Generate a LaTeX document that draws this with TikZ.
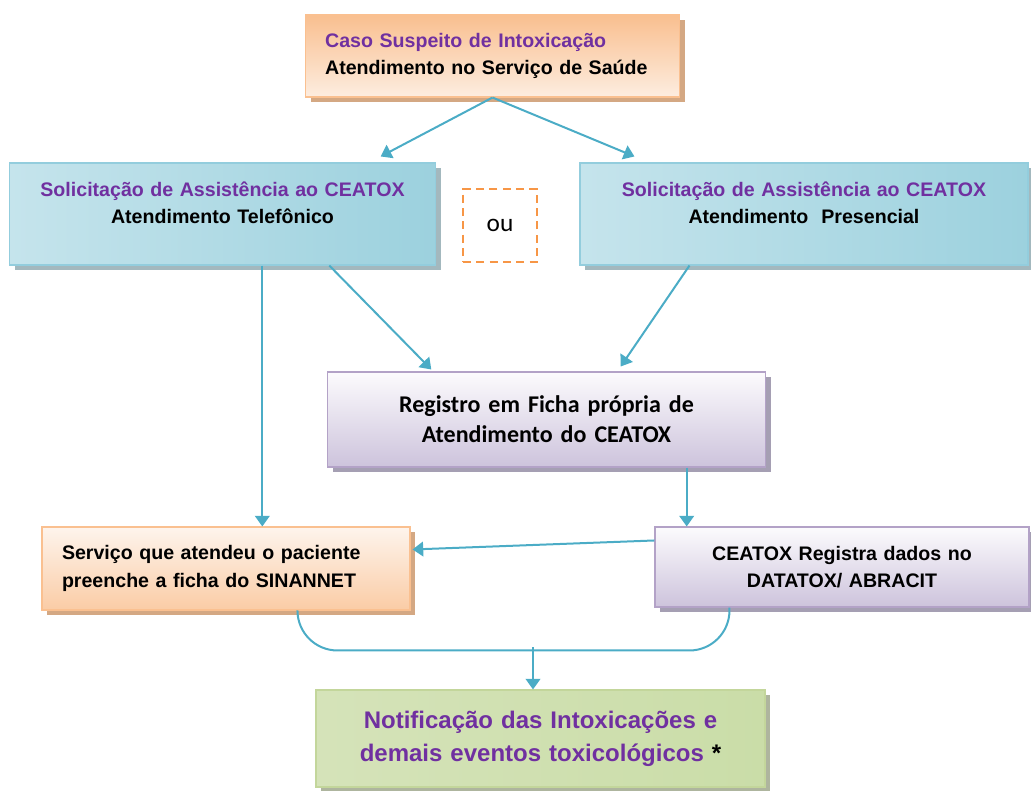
\documentclass[tikz,border=0pt]{standalone}
\usepackage{fontspec}
\setmainfont{Liberation Sans}
\newfontfamily\calibri{Carlito}
\usetikzlibrary{arrows.meta,positioning,calc,shadows}
\definecolor{roxo}{HTML}{7030A0}
\definecolor{setacor}{HTML}{4BACC6}
\definecolor{laranjaA}{HTML}{F9BF8F}
\definecolor{laranjaB}{HTML}{FDEDE0}
\definecolor{laranjaborda}{HTML}{FAC090}
\definecolor{laranjasombra}{HTML}{D4A883}
\definecolor{azulA}{HTML}{C5E4EC}
\definecolor{azulB}{HTML}{E0F1F6}
\definecolor{azulC}{HTML}{9CD1DE}
\definecolor{azulborda}{HTML}{93CDDD}
\definecolor{azulsombra}{HTML}{A3B8BE}
\definecolor{lilasA}{HTML}{FCFBFD}
\definecolor{lilasB}{HTML}{CDC3DC}
\definecolor{lilasborda}{HTML}{B3A2C7}
\definecolor{lilassombra}{HTML}{A59FB3}
\definecolor{verdeA}{HTML}{D5E3B9}
\definecolor{verdeB}{HTML}{EEF4E4}
\definecolor{verdeC}{HTML}{CADDA8}
\definecolor{verdeborda}{HTML}{C3D69B}
\definecolor{verdesombra}{HTML}{AEB59E}
\definecolor{tracejado}{HTML}{F79646}

\begin{document}
\begin{tikzpicture}[x=0.75pt,y=0.75pt]
  \tikzstyle{every node}+=[font=\bfseries\fontsize{14.7}{20.5}\selectfont]
  \tikzstyle{caixa}=[draw, line width=0.8pt, inner xsep=15pt, inner ysep=0pt]
  \tikzstyle{laranja}=[caixa, draw=laranjaborda, top color=laranjaA, bottom color=laranjaB,
      drop shadow={shadow xshift=4pt, shadow yshift=-4pt, fill=laranjasombra, opacity=1}]
  \tikzstyle{pessego}=[caixa, draw=laranjaborda, top color=laranjaB!60!white, bottom color=laranjaA!80!white,
      drop shadow={shadow xshift=4pt, shadow yshift=-4pt, fill=laranjasombra, opacity=1}]
  \tikzstyle{azul}=[caixa, draw=azulborda, left color=azulA, middle color=azulB, right color=azulC,
      drop shadow={shadow xshift=4pt, shadow yshift=-4pt, fill=azulsombra, opacity=1}]
  \tikzstyle{lilas}=[caixa, draw=lilasborda, top color=lilasA, bottom color=lilasB,
      drop shadow={shadow xshift=4pt, shadow yshift=-4pt, fill=lilassombra, opacity=1}]
  \tikzstyle{verde}=[caixa, draw=verdeborda, left color=verdeA, middle color=verdeB, right color=verdeC,
      drop shadow={shadow xshift=4pt, shadow yshift=-4pt, fill=verdesombra, opacity=1}]
  \tikzstyle{seta}=[draw=setacor, line width=1.5pt, -{Triangle[width=11pt,length=8pt]}]
  \tikzstyle{linha}=[draw=setacor, line width=1.5pt]

  \useasboundingbox (0,0) rectangle (1031,-790);

  % caixas
  \node[laranja, minimum width=281pt, minimum height=61.5pt, text width=251pt, align=left]
      (topo) at (492.5,-56)
      {\textcolor{roxo}{Caso Suspeito de Intoxicação}\\Atendimento no Serviço de Saúde};
  \node[azul, minimum width=319pt, minimum height=76.5pt, text width=289pt, align=center]
      (tel) at (222.5,-214)
      {\textcolor{roxo}{Solicitação de Assistência ao CEATOX}\\Atendimento Telefônico\\[-4pt]\mbox{}};
  \node[azul, minimum width=336pt, minimum height=76.5pt, text width=306pt, align=center]
      (pres) at (804,-214)
      {\textcolor{roxo}{Solicitação de Assistência ao CEATOX}\\Atendimento\ \ Presencial\\[-4pt]\mbox{}};
  \node[draw=tracejado, line width=1.5pt, dash pattern=on 6pt off 4pt,
      minimum width=55.5pt, minimum height=54.75pt, font=\calibri\fontsize{19}{22}\selectfont]
      (ou) at (500,-225.5) {ou};
  \node[lilas, minimum width=328pt, minimum height=71.25pt, text width=298pt, align=center,
      font=\calibri\bfseries\fontsize{18}{22.5}\selectfont]
      (reg) at (546.5,-419.5)
      {Registro em Ficha própria de\\Atendimento do CEATOX};
  \node[pessego, minimum width=276pt, minimum height=62.25pt, text width=246pt, align=left]
      (serv) at (226,-568.5)
      {Serviço que atendeu o paciente\\preenche a ficha do SINANNET};
  \node[lilas, minimum width=280.5pt, minimum height=60pt, text width=250pt, align=center]
      (datatox) at (842,-567)
      {CEATOX Registra dados no\\DATATOX/ ABRACIT};
  \node[verde, minimum width=336.75pt, minimum height=72.75pt, text width=306pt, align=center,
      font=\bfseries\fontsize{18}{25}\selectfont]
      (notif) at (540.5,-738.5)
      {\textcolor{roxo}{Notificação das Intoxicações e}\\\textcolor{roxo}{demais eventos toxicológicos} *};

  % ligacoes
  \draw[seta] (topo.south) -- ($(tel.north east)+(-55,6)$);
  \draw[seta] (topo.south) -- ($(pres.north west)+(55,6)$);
  \coordinate (t1) at ($(tel.south west)+(253,0)$);
  \draw[seta] (t1) -- (t1 |- serv.north);
  \draw[seta] ($(tel.south west)+(320,0)$) -- ($(reg.north west)+(104,2)$);
  \draw[seta] ($(pres.south west)+(110,0)$) -- ($(reg.north east)+(-145,5)$);
  \coordinate (r1) at ($(reg.south east)+(-79,0)$);
  \draw[seta] (r1) -- (r1 |- datatox.north);
  \draw[seta] ($(datatox.north west)+(0,-14)$) -- ($(serv.north east)+(2,-23)$);
  \coordinate (jun) at ($(notif.north)+(-7.5,39)$);
  \draw[linha, rounded corners=30pt] ($(serv.south west)+(256,0)$) |- (jun)
      -| ($(datatox.south west)+(75,0)$);
  \draw[seta] ($(jun)+(0,3)$) -- (jun |- notif.north);
\end{tikzpicture}
\end{document}
